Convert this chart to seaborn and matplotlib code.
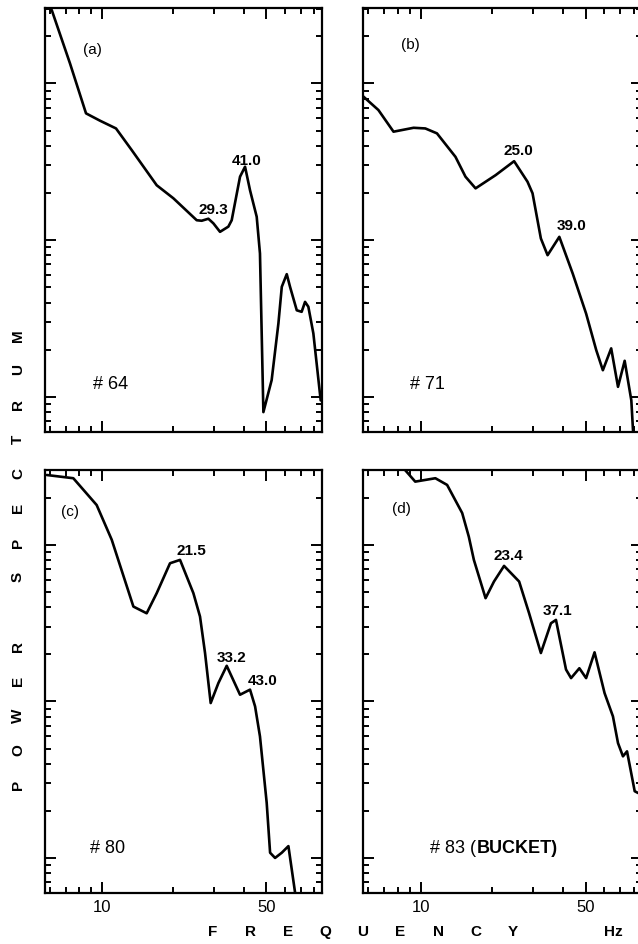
import matplotlib
matplotlib.use("Agg")
import matplotlib.pyplot as plt
from matplotlib.ticker import FixedLocator, FixedFormatter, NullFormatter, LogLocator
import pandas as pd
import seaborn as sns

# values (frequency in Hz, power in arbitrary log units)
freq_a = [6.11, 7.31, 8.55, 9.81, 11.47, 13.37, 17.09, 20.12, 25.29, 26.56, 28.35,
          29.78, 31.78, 34.48, 35.63, 38.66, 40.61, 42.64, 45.52, 47.0, 48.6, 52.7,
          56.3, 58.2, 61.1, 63.1, 67.4, 70.7, 73.1, 75.5, 79.3, 85.2]
power_a = [294, 134, 64.4, 57.8, 51.6, 37.6, 22.4, 18.5, 13.4, 13.3, 13.7,
           12.8, 11.3, 12.2, 13.4, 25.4, 29.4, 20.8, 14.1, 8.22, 0.80, 1.28,
           2.94, 5.04, 6.07, 5.04, 3.57, 3.49, 4.04, 3.76, 2.54, 0.95]
peaks_a = ["29.3", "41.0"]

freq_b = [5.63, 6.63, 7.68, 9.34, 10.47, 11.73, 14.05, 15.49, 17.09, 20.79, 24.88,
          28.35, 29.78, 32.3, 34.48, 38.66, 44.06, 50.2, 55.4, 59.1, 64.1, 68.5,
          73.1, 78.0, 79.3]
power_b = [84.3, 67.6, 49.2, 52.1, 51.6, 48.0, 34.0, 25.4, 21.4, 26.0, 31.9,
           23.6, 19.9, 10.25, 8.02, 10.5, 6.12, 3.40, 1.99, 1.48, 2.04, 1.16,
           1.70, 0.95, 0.61]
peaks_b = ["25.0", "39.0"]

freq_c = [5.82, 7.55, 9.49, 11.0, 13.6, 15.49, 17.09, 19.47, 21.48, 24.48, 26.12,
          27.44, 29.0, 31.27, 33.93, 38.66, 42.64, 44.8, 47.0, 50.2, 51.9, 54.5,
          58.2, 62.1, 66.3]
power_c = [280, 267, 180, 108, 40.4, 36.6, 49.2, 76.4, 80.3, 49.2, 34.9,
           20.4, 9.77, 13.1, 16.9, 11.04, 11.9, 9.3, 5.98, 2.25, 1.08, 1.0,
           1.08, 1.19, 0.60]
peaks_c = ["21.5", "33.2", "43.0"]

freq_d = [8.47, 9.49, 11.55, 12.95, 15.0, 16.0, 16.81, 18.84, 20.45, 22.56, 26.13,
          28.8, 32.3, 35.63, 37.42, 38.66, 41.27, 43.35, 47.0, 50.2, 54.5, 60.1,
          65.2, 68.5, 71.9, 74.8, 80.6, 83.3]
power_d = [309, 254, 267, 242, 160, 113, 80.3, 45.7, 58.4, 73.5, 58.4,
           36.6, 20.4, 31.6, 33.2, 26.0, 16.0, 14.1, 16.3, 14.1, 20.6, 11.3,
           8.03, 5.42, 4.46, 4.80, 2.67, 2.60]
peaks_d = ["23.4", "37.1"]

panel_tags = ["(a)", "(b)", "(c)", "(d)"]
run_labels = ["# 64", "# 71", "# 80", "# 83"]
x_ticks = [10, 50]
x_minor = [6, 7, 8, 9, 20, 30, 40, 60, 70, 80]

sns.set_style("ticks")
plt.rcParams['font.family'] = ['Liberation Sans', 'DejaVu Sans']
plt.rcParams['text.color'] = 'black'
plt.rcParams['xtick.color'] = 'black'
plt.rcParams['ytick.color'] = 'black'
plt.rcParams['xtick.labelcolor'] = 'black'
plt.rcParams['axes.edgecolor'] = 'black'

fig = plt.figure(figsize=(6.38, 9.44), dpi=100)

boxes = [[0.0705, 0.542, 0.4342, 0.4492],
         [0.5694, 0.542, 0.4364, 0.4492],
         [0.0705, 0.0537, 0.4342, 0.4484],
         [0.5694, 0.0537, 0.4364, 0.4484]]
# label offsets in pixels (dx, dy) from each peak
peak_offsets = [[(5, 5), (2, 2)], [(4, 6), (12, 7)],
                [(11, 5), (5, 4), (13, 5)], [(4, 6), (2, 5)]]
tag_pos = [(0.173, 0.902), (0.168, 0.913), (0.09, 0.901), (0.138, 0.909)]
run_pos = [(0.238, 0.112), (0.232, 0.112), (0.226, 0.107), (0.407, 0.107)]

series = [(freq_a, power_a, peaks_a), (freq_b, power_b, peaks_b),
          (freq_c, power_c, peaks_c), (freq_d, power_d, peaks_d)]

for i, (f, p, peaks) in enumerate(series):
    ax = fig.add_axes(boxes[i])
    df = pd.DataFrame({"freq": f, "power": p})
    sns.lineplot(data=df, x="freq", y="power", ax=ax, color="black",
                 linewidth=1.9, estimator=None, sort=False)
    ax.set_xscale("log")
    ax.set_yscale("log")
    ax.set_xlim(5.72, 86.3)
    ax.set_ylim(10 ** -0.226, 10 ** 2.479)
    ax.set_xlabel("")
    ax.set_ylabel("")

    ax.xaxis.set_major_locator(FixedLocator(x_ticks))
    ax.xaxis.set_minor_locator(FixedLocator(x_minor))
    ax.xaxis.set_minor_formatter(NullFormatter())
    if i >= 2:
        ax.xaxis.set_major_formatter(FixedFormatter([str(t) for t in x_ticks]))
    else:
        ax.xaxis.set_major_formatter(NullFormatter())
    ax.yaxis.set_major_locator(LogLocator(base=10))
    ax.yaxis.set_minor_locator(LogLocator(base=10, subs=range(2, 10)))
    ax.yaxis.set_major_formatter(NullFormatter())
    ax.yaxis.set_minor_formatter(NullFormatter())

    ax.tick_params(which="both", direction="in", top=True, right=True,
                   width=1.4, color="black", labelcolor="black", labelsize=12, pad=5)
    ax.tick_params(which="major", length=8)
    ax.tick_params(which="minor", length=4)
    for sp in ax.spines.values():
        sp.set_linewidth(1.6)
        sp.set_color("black")

    for lab, (dx, dy) in zip(peaks, peak_offsets[i]):
        val = float(lab)
        # the labelled peak is the highest point close to its frequency
        near = [j for j in range(len(f)) if abs(f[j] - val) < 2.5]
        k = max(near, key=lambda j: p[j])
        ax.annotate(lab, xy=(f[k], p[k]), xytext=(dx * 0.72, dy * 0.72),
                    textcoords="offset points", ha="center", va="baseline",
                    fontsize=11, fontweight="bold", color="black")

    ax.text(tag_pos[i][0], tag_pos[i][1], panel_tags[i], transform=ax.transAxes,
            ha="center", va="center", fontsize=11, color="black")
    if i == 3:
        ax.text(run_pos[i][0], run_pos[i][1], run_labels[i] + " (", transform=ax.transAxes,
                ha="right", va="center", fontsize=13, color="black")
        ax.text(run_pos[i][0], run_pos[i][1], "BUCKET)", transform=ax.transAxes,
                ha="left", va="center", fontsize=13, fontweight="bold", color="black")
    else:
        ax.text(run_pos[i][0], run_pos[i][1], run_labels[i], transform=ax.transAxes,
                ha="center", va="center", fontsize=13, color="black")

# spaced-out axis titles
ylab = "POWER SPECTRUM"
for n, ch in enumerate(ylab):
    y = (785 - n * 34.6) / 944
    fig.text(18 / 638, 1 - y, ch, rotation=90, ha="center", va="center",
             fontsize=11, fontweight="bold", color="black")

xlab = "FREQUENCY"
for n, ch in enumerate(xlab):
    fig.text((213 + n * 37.5) / 638, 1 - 932 / 944, ch, ha="center", va="center",
             fontsize=11, fontweight="bold", color="black")
fig.text(613 / 638, 1 - 932 / 944, "Hz", ha="center", va="center",
         fontsize=11, fontweight="bold", color="black")

fig.savefig("out.png", dpi=100)
